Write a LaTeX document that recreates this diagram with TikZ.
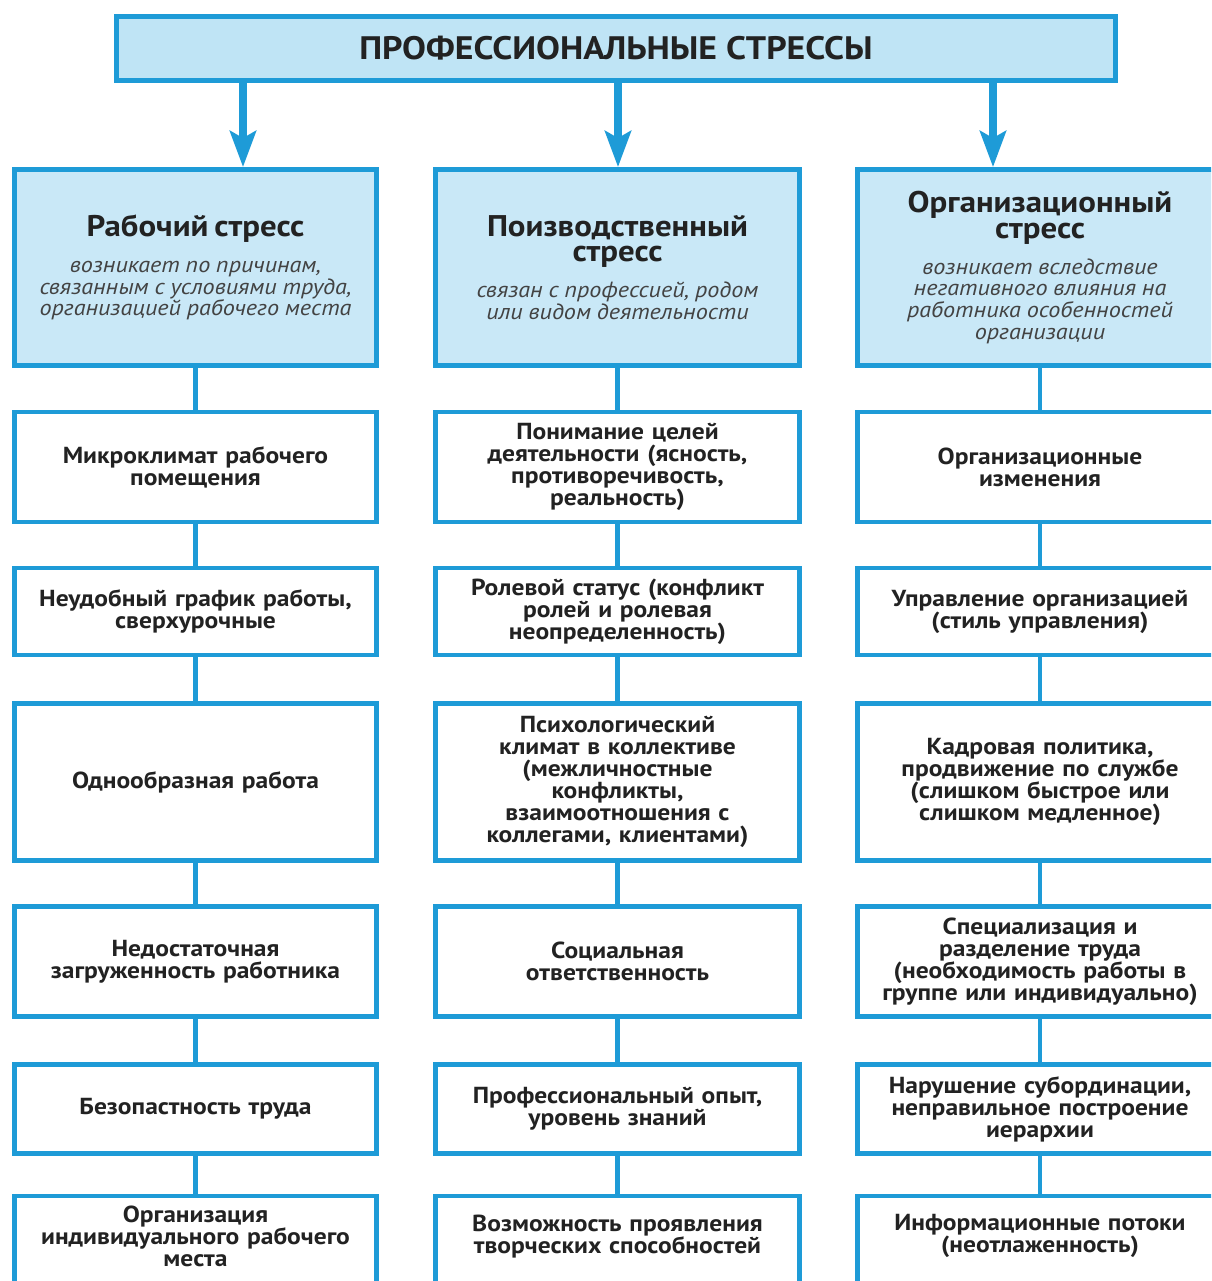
\documentclass[tikz,border=0pt]{standalone}
\usepackage{fontspec}
\setmainfont{PT Sans}[FakeStretch=1.1]
\usetikzlibrary{arrows.meta}
\definecolor{bline}{HTML}{1E9BD7}
\definecolor{hfill}{HTML}{C9E8F7}
\definecolor{tfill}{HTML}{BFE4F5}
\definecolor{txt}{HTML}{222222}
\newcommand{\hdtitle}{\fontsize{17}{14.6}\selectfont\bfseries}
\newcommand{\hdsub}{\fontsize{12.5}{12.4}\selectfont\itshape\color{txt!85}}
\newcommand{\lift}{\par\vspace{9pt}}
\begin{document}
\begin{tikzpicture}[x=0.02cm,y=-0.02cm,
  every node/.style={text=txt},
  boxbase/.style={draw=bline,line width=2.8pt,inner sep=2pt,align=center},
  topbox/.style={boxbase,fill=tfill,minimum width=19.98cm,minimum height=1.28cm,
     font=\fontsize{18.5}{18.5}\selectfont\bfseries},
  headbox/.style={boxbase,fill=hfill,minimum height=3.92cm,text width=7.1cm},
  itembox/.style={boxbase,fill=white,text width=7.1cm,
     font=\fontsize{13.2}{12.5}\selectfont\bfseries},
  conn/.style={draw=bline,line width=2.3pt},
  arr/.style={draw=bline,line width=4pt,-{Stealth[length=0.72cm,width=0.52cm,inset=0.14cm]}}
]
\useasboundingbox (0,0) rectangle (1211,1281);
\clip (0,0) rectangle (1211,1281);

% top
\node[topbox] (top) at (616,48.5) {ПРОФЕССИОНАЛЬНЫЕ СТРЕССЫ};

% headers
\node[headbox,minimum width=7.2cm] (h1) at (195.5,267.5)
 {{\hdtitle Рабочий стресс\par}\vspace{8pt}
  {\hdsub возникает по причинам,\\ связанным с условиями труда,\\ организацией рабочего места\par}};
\node[headbox,minimum width=7.28cm] (h2) at (617.5,267.5)
 {{\hdtitle Поизводственный\\ стресс\par}\vspace{8pt}
  {\hdsub связан с профессией, родом\\ или видом деятельности\par}};
\node[headbox,minimum width=7.3cm] (h3) at (1040,267.5)
 {{\hdtitle Организационный\\ стресс\par}\vspace{8pt}
  {\hdsub возникает вследствие\\ негативного влияния на\\ работника особенностей\\ организации\par}};

% arrows
\coordinate (a1) at (243,82);
\coordinate (a2) at (618,82);
\coordinate (a3) at (993,82);
\draw[arr] (a1) -- (a1 |- h1.north);
\draw[arr] (a2) -- (a2 |- h2.north);
\draw[arr] (a3) -- (a3 |- h3.north);

% column 1
\begin{scope}[every node/.append style={itembox,minimum width=7.2cm}]
\node[minimum height=2.2cm] (c11) at (195.5,467) {Микроклимат рабочего\\ помещения};
\node[minimum height=1.74cm] (c12) at (195.5,611.5) {Неудобный график работы,\\ сверхурочные};
\node[minimum height=3.15cm] (c13) at (195.5,782) {Однообразная работа};
\node[minimum height=2.2cm] (c14) at (195.5,961.5) {Недостаточная\\ загруженность работника};
\node[minimum height=1.79cm] (c15) at (195.5,1109) {Безопастность труда};
\node[minimum height=1.92cm] (c16) at (195.5,1244) {Организация\\ индивидуального рабочего\\ места\lift};
\end{scope}

% column 2
\begin{scope}[every node/.append style={itembox,minimum width=7.28cm}]
\node[minimum height=2.2cm] (c21) at (617.5,467) {Понимание целей\\ деятельности (ясность,\\ противоречивость,\\ реальность)};
\node[minimum height=1.74cm] (c22) at (617.5,611.5) {Ролевой статус (конфликт\\ ролей и ролевая\\ неопределенность)};
\node[minimum height=3.15cm] (c23) at (617.5,782) {Психологический\\ климат в коллективе\\ (межличностные\\ конфликты,\\ взаимоотношения с\\ коллегами, клиентами)};
\node[minimum height=2.2cm] (c24) at (617.5,961.5) {Социальная\\ ответственность};
\node[minimum height=1.79cm] (c25) at (617.5,1109) {Профессиональный опыт,\\ уровень знаний};
\node[minimum height=1.92cm] (c26) at (617.5,1244) {Возможность проявления\\ творческих способностей\lift};
\end{scope}

% column 3
\begin{scope}[every node/.append style={itembox,minimum width=7.3cm}]
\node[minimum height=2.2cm] (c31) at (1040,467) {Организационные\\ изменения};
\node[minimum height=1.74cm] (c32) at (1040,611.5) {Управление организацией\\ (стиль управления)};
\node[minimum height=3.15cm] (c33) at (1040,782) {Кадровая политика,\\ продвижение по службе\\ (слишком быстрое или\\ слишком медленное)};
\node[minimum height=2.2cm] (c34) at (1040,961.5) {Специализация и\\ разделение труда\\ (необходимость работы в\\ группе или индивидуально)};
\node[minimum height=1.79cm] (c35) at (1040,1109) {Нарушение субординации,\\ неправильное построение\\ иерархии};
\node[minimum height=1.92cm] (c36) at (1040,1244) {Информационные потоки\\ (неотлаженность)\lift};
\end{scope}

% connectors
\foreach \c in {1,2,3}{
  \draw[conn] (h\c.south) -- (c\c1.north);
  \draw[conn] (c\c1.south) -- (c\c2.north);
  \draw[conn] (c\c2.south) -- (c\c3.north);
  \draw[conn] (c\c3.south) -- (c\c4.north);
  \draw[conn] (c\c4.south) -- (c\c5.north);
  \draw[conn] (c\c5.south) -- (c\c6.north);
}
\end{tikzpicture}
\end{document}
